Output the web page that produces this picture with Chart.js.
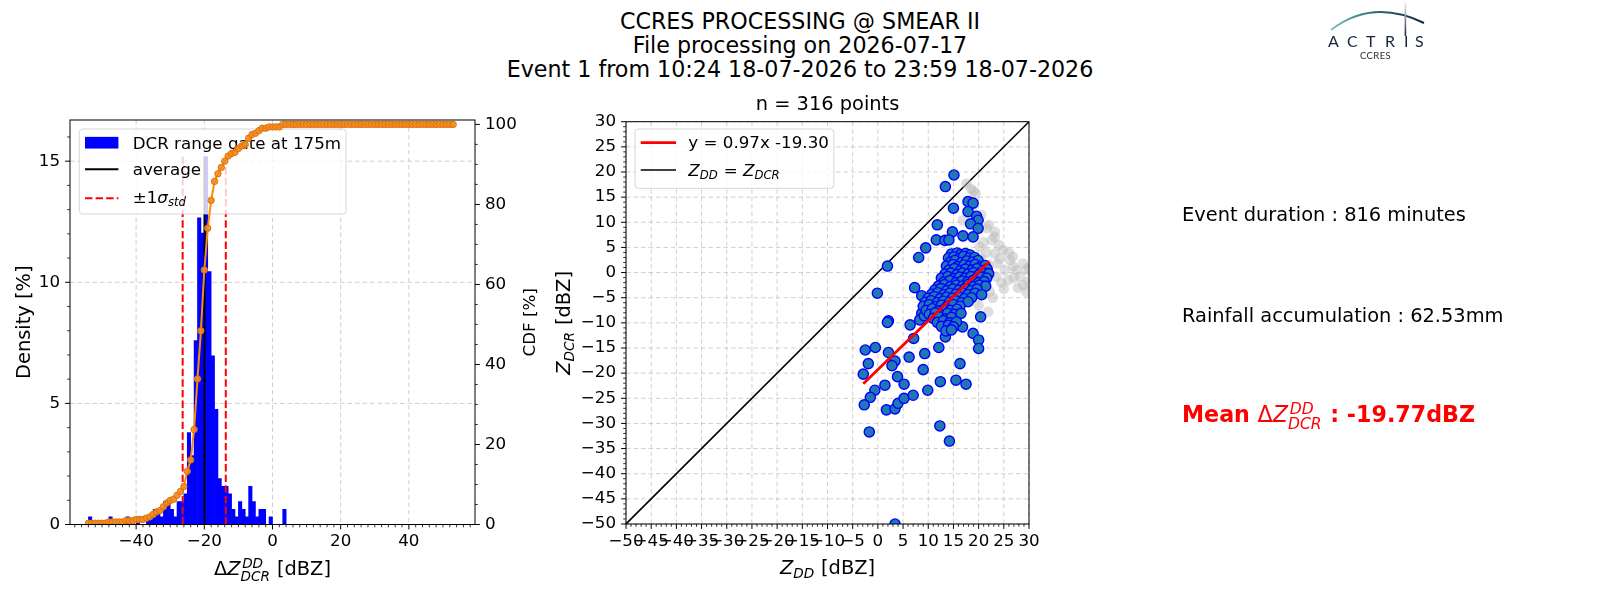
<!DOCTYPE html>
<html lang="en">
<head>
<meta charset="UTF-8">
<title>CCRES processing @ SMEAR II</title>
<script src="https://cdn.jsdelivr.net/npm/chart.js@4.4.1/dist/chart.umd.min.js"></script>
<style>
  body { margin: 0; background: #fff; width: 1600px; height: 600px; overflow: hidden; position: relative; }
  canvas { position: absolute; top: 0; }
  #hist { left: 0; }
  #scat { left: 545px; }
  #suptitle { position: absolute; left: 0; top: 8.8px; width: 1600px; text-align: center;
              font-family: 'DejaVu Sans', sans-serif; font-size: 22.2px; line-height: 24px; color: #000; }
  #logo { position: absolute; left: 1300px; top: 0; }
</style>
</head>
<body>
<div id="suptitle">CCRES PROCESSING @ SMEAR II<br>File processing on 2026-07-17<br>Event 1 from 10:24 18-07-2026 to 23:59 18-07-2026</div>
<canvas id="hist" width="545" height="600"></canvas>
<canvas id="scat" width="1055" height="600"></canvas>
<svg id="logo" width="140" height="70" viewBox="0 0 140 70">
  <defs>
    <linearGradient id="arcG" x1="0" y1="0" x2="1" y2="0">
      <stop offset="0" stop-color="#7cc6c2"/>
      <stop offset="0.4" stop-color="#2e7483"/>
      <stop offset="1" stop-color="#17243f"/>
    </linearGradient>
    <linearGradient id="barG" x1="0" y1="0" x2="0" y2="1">
      <stop offset="0" stop-color="#ffffff"/>
      <stop offset="1" stop-color="#17243f"/>
    </linearGradient>
  </defs>
  <path d="M31 30 Q72.5 -2 124 23" fill="none" stroke="url(#arcG)" stroke-width="2"/>
  <rect x="104.6" y="0" width="1.6" height="36" fill="url(#barG)"/>
  <text x="28 47 66 85 104 115" y="47" font-family="Lato, 'Open Sans', sans-serif" font-size="16" fill="#17243f">ACTRIS</text>
  <text x="60" y="58.5" font-family="Lato, 'Open Sans', sans-serif" font-size="9.5" letter-spacing="0.4" fill="#2b2b2b">CCRES</text>
</svg>
<script>
// ---------- histogram of Z_DD - Z_DCR (1 dBZ bins, left edges of non-empty bins) ----------
const histBinLeft = [-54, -48, -43, -40, -37, -36,
  -35, -34, -33, -32, -31, -30, -29, -28, -27, -26,
  -25, -24, -23, -22, -21, -20, -19, -18, -17, -16,
  -15, -14, -13, -12, -11, -10, -9, -8, -7, -6,
  -5, -4, -3, -1, 3];
const histDensity = [0.32, 0.32, 0.32, 0.32, 0.32, 0.32,
  0.63, 0.63, 0.32, 0.95, 0.95, 0.63, 0.32, 0.95, 0.95, 1.27,
  3.80, 2.85, 7.59, 12.66, 12.03, 15.19, 10.44, 6.96, 4.75, 1.90,
  1.58, 1.58, 1.27, 0.63, 0.32, 0.95, 0.63, 0.32, 1.58, 0.95,
  0.32, 0.63, 0.63, 0.32, 0.63];

// cumulative distribution, one marker per bin
const cdfBinLeft = [-54, -53, -52, -51, -50, -49, -48, -47, -46, -45,
  -44, -43, -42, -41, -40, -39, -38, -37, -36, -35,
  -34, -33, -32, -31, -30, -29, -28, -27, -26, -25,
  -24, -23, -22, -21, -20, -19, -18, -17, -16, -15,
  -14, -13, -12, -11, -10, -9, -8, -7, -6, -5,
  -4, -3, -2, -1, 0, 1, 2, 3, 4, 5,
  6, 7, 8, 9, 10, 11, 12, 13, 14, 15,
  16, 17, 18, 19, 20, 21, 22, 23, 24, 25,
  26, 27, 28, 29, 30, 31, 32, 33, 34, 35,
  36, 37, 38, 39, 40, 41, 42, 43, 44, 45,
  46, 47, 48, 49, 50, 51, 52, 53];
const cdfPercent = [0.32, 0.32, 0.32, 0.32, 0.32, 0.32, 0.63, 0.63, 0.63, 0.63,
  0.63, 0.95, 0.95, 0.95, 1.27, 1.27, 1.27, 1.58, 1.90, 2.53,
  3.16, 3.48, 4.43, 5.38, 6.01, 6.33, 7.28, 8.23, 9.49, 13.29,
  16.14, 23.73, 36.39, 48.42, 63.61, 74.05, 81.01, 85.76, 87.66, 89.24,
  90.82, 92.09, 92.72, 93.04, 93.99, 94.62, 94.94, 96.52, 97.47, 97.78,
  98.42, 99.05, 99.05, 99.37, 99.37, 99.37, 99.37, 100, 100, 100,
  100, 100, 100, 100, 100, 100, 100, 100, 100, 100,
  100, 100, 100, 100, 100, 100, 100, 100, 100, 100,
  100, 100, 100, 100, 100, 100, 100, 100, 100, 100,
  100, 100, 100, 100, 100, 100, 100, 100, 100, 100,
  100, 100, 100, 100, 100, 100, 100, 100];

const meanLineX = -19.95;
const stdLinesX = [-26.35, -13.7];
const vlineTop = 15.19;
const histLegendLabels = ['DCR range gate at 175m', 'average'];

// ---------- scatter Z_DD vs Z_DCR ----------
const bluePoints = [
  [15.1, 19.4], [13.4, 17.1], [15.0, 12.8], [17.9, 14.1], [18.9, 13.8], [17.9, 12.1], [19.6, 11.2],
  [19.9, 10.4], [18.4, 9.7], [19.9, 8.8], [11.8, 9.5], [14.8, 8.1], [16.9, 7.3], [18.9, 7.1],
  [11.6, 6.5], [13.3, 6.4], [14.1, 6.5], [9.5, 4.9], [8.1, 3.0], [1.9, 1.3], [-0.1, -4.1],
  [7.3, -3.0], [8.7, -4.6], [2.1, -9.6], [1.9, -9.9], [6.4, -10.4], [7.1, -13.1], [-2.5, -15.4],
  [-0.5, -14.9], [2.1, -15.9], [3.4, -17.6], [2.8, -18.5], [6.2, -16.8], [9.3, -16.1], [12.1, -14.9],
  [13.4, -12.8], [16.8, -10.8], [18.9, -12.1], [20.0, -13.4], [20.0, -15.1], [20.4, -8.8], [16.3, -18.1],
  [9.0, -19.3], [-1.9, -18.1], [-2.9, -20.2], [-0.6, -23.4], [-1.5, -24.8], [-2.7, -26.3], [1.4, -22.4],
  [3.9, -20.7], [5.2, -22.2], [1.7, -27.3], [3.4, -27.1], [4.0, -26.0], [5.2, -25.0], [7.0, -24.4],
  [9.9, -23.4], [12.4, -21.7], [15.5, -21.4], [17.5, -22.2], [-1.7, -31.7], [12.3, -30.5], [14.2, -33.5],
  [3.4, -50.0], [21.8, -0.4], [8.7, -8.1], [8.3, -9.4], [9.2, -8.6],
  [14.6, 3.7], [15.7, 3.9], [16.5, 3.6], [17.4, 3.8], [18.3, 3.5],
  [14.0, 2.9], [15.1, 3.1], [16.1, 2.8], [17.0, 3.2], [18.1, 2.9], [19.2, 3.0],
  [14.4, 2.1], [15.3, 2.4], [16.6, 2.0], [17.6, 2.3], [18.8, 2.1], [19.9, 2.4],
  [13.6, 1.3], [14.9, 1.6], [15.8, 1.2], [17.1, 1.5], [18.2, 1.3], [19.3, 1.6], [20.4, 1.2], [21.3, 1.4],
  [14.1, 0.5], [15.2, 0.8], [16.4, 0.4], [17.4, 0.7], [18.7, 0.5], [19.7, 0.8], [20.8, 0.4], [21.7, 0.7],
  [13.3, -0.3], [14.5, -0.1], [15.7, -0.4], [16.8, -0.1], [17.9, -0.3], [19.0, 0.0], [20.1, -0.4], [21.2, -0.1], [22.0, -0.2],
  [12.6, -1.1], [13.9, -0.8], [15.0, -1.2], [16.2, -0.9], [17.3, -1.1], [18.5, -0.8], [19.5, -1.2], [20.6, -0.9], [21.6, -1.1],
  [13.1, -1.9], [14.3, -1.6], [15.5, -2.0], [16.7, -1.7], [17.8, -1.9], [18.9, -1.6], [20.0, -2.0], [21.1, -1.8],
  [12.0, -2.7], [13.2, -2.4], [14.4, -2.8], [15.6, -2.5], [16.8, -2.7], [17.9, -2.4], [19.0, -2.8], [20.2, -2.5], [21.4, -2.7],
  [11.3, -3.5], [12.5, -3.2], [13.7, -3.6], [14.9, -3.3], [16.1, -3.5], [17.3, -3.2], [18.5, -3.6], [19.7, -3.3],
  [10.7, -4.3], [11.9, -4.0], [13.1, -4.4], [14.3, -4.1], [15.5, -4.3], [16.7, -4.0], [17.9, -4.4], [19.3, -4.1], [20.6, -4.4],
  [10.0, -5.1], [11.2, -4.8], [12.4, -5.2], [13.6, -4.9], [14.8, -5.1], [16.0, -4.8], [17.2, -5.2], [18.6, -5.0],
  [9.4, -5.9], [10.6, -5.6], [11.8, -6.0], [13.0, -5.7], [14.2, -5.9], [15.4, -5.6], [16.6, -6.0], [17.9, -5.8],
  [9.0, -6.7], [10.2, -6.4], [11.4, -6.8], [12.6, -6.5], [13.8, -6.7], [15.0, -6.4], [16.3, -6.7],
  [9.6, -7.5], [10.8, -7.2], [12.0, -7.6], [13.2, -7.3], [14.4, -7.5], [15.7, -7.3],
  [10.2, -8.3], [11.4, -8.0], [12.6, -8.4], [13.8, -8.1], [15.2, -8.3], [16.5, -8.1],
  [11.0, -9.1], [12.2, -8.8], [13.4, -9.2], [14.6, -8.9],
  [11.8, -9.9], [13.0, -9.6], [14.2, -10.0], [15.6, -9.8],
  [12.6, -10.7], [14.0, -10.5], [15.0, -10.8],
  [13.5, -11.6], [14.6, -11.4]
];
const grayPoints = [
  [17.6, 17.7], [19.0, 16.2], [19.4, 15.7], [18.5, 16.6], [16.9, 10.4], [20.5, 11.5], [18.8, 13.0],
  [21.6, 8.8], [23.2, 8.1], [22.6, 6.5], [23.2, 7.1], [22.0, 9.5], [20.2, 5.1], [21.0, 6.0],
  [24.0, 5.5], [24.9, 4.5], [23.2, 3.8], [21.5, 4.0], [24.2, 2.8], [26.2, 2.5], [26.0, 4.0],
  [26.8, 3.2], [20.5, 2.8], [22.0, 1.5], [23.8, 1.8], [25.2, 0.5], [26.9, 1.2], [27.5, 0.5],
  [28.8, 1.8], [29.5, 0.5], [30.0, 1.0], [28.2, -0.8], [27.0, -1.0], [29.8, -1.8], [28.8, -2.5],
  [27.8, -3.0], [29.5, -3.8], [23.5, -0.8], [25.9, -1.5], [24.5, -2.0], [21.0, -1.5], [22.2, -3.8],
  [25.0, -3.2], [22.8, -5.0], [21.9, -7.8], [20.0, -6.5]
];
const fitLineX = [-2.9, 22.1];
const fitLineY = [-22.11, 2.14];
const oneToOne = [-50, 30];
const scatterLegendLabels = ['y = 0.97x -19.30'];
const rightTexts = ['Event duration : 816 minutes', 'Rainfall accumulation : 62.53mm'];

// ---------- text helpers ----------
const FAMILY = "'DejaVu Sans', sans-serif";
Chart.defaults.font.family = FAMILY;
Chart.defaults.font.size = 16.7;
Chart.defaults.color = '#000';

function fontStr(size, it, bold) {
  return (it ? 'italic ' : '') + (bold ? 'bold ' : '') + size + 'px ' + FAMILY;
}

// parts: strings, {t, it, b} or {sup, sub} (script pair, mathtext-like)
function drawRich(ctx, x, y, parts, size, align, color) {
  const items = parts.map(p => (typeof p === 'string' ? { t: p } : p));
  const widths = items.map(p => {
    if (p.sup || p.sub) {
      ctx.font = fontStr(size * 0.7, true);
      const ws = p.sup ? ctx.measureText(p.sup).width + size * 0.08 : 0;
      const wb = p.sub ? ctx.measureText(p.sub).width : 0;
      return Math.max(ws, wb) + size * 0.04;
    }
    ctx.font = fontStr(size, p.it, p.b);
    return ctx.measureText(p.t).width;
  });
  const total = widths.reduce((a, b) => a + b, 0);
  let cx = align === 'center' ? x - total / 2 : align === 'right' ? x - total : x;
  ctx.fillStyle = color || '#000';
  ctx.textAlign = 'left';
  ctx.textBaseline = 'alphabetic';
  items.forEach((p, i) => {
    if (p.sup || p.sub) {
      ctx.font = fontStr(size * 0.7, true);
      if (p.sup) ctx.fillText(p.sup, cx + size * 0.08, y - size * 0.36);
      if (p.sub) ctx.fillText(p.sub, cx, y + size * (p.sup ? 0.33 : 0.2));
    } else {
      ctx.font = fontStr(size, p.it, p.b);
      ctx.fillText(p.t, cx, y);
    }
    cx += widths[i];
  });
  return total;
}

function drawRotated(ctx, x, y, parts, size) {
  ctx.save();
  ctx.translate(x, y);
  ctx.rotate(-Math.PI / 2);
  drawRich(ctx, 0, 0, parts, size, 'center');
  ctx.restore();
}

const fmtTick = v => (v < 0 ? '\u2212' + Math.abs(v) : String(v));

// ---------- axes decoration (matplotlib look) ----------
function drawGrid(chart, xId, yId) {
  const { ctx, chartArea: a } = chart;
  const xs = chart.scales[xId], ys = chart.scales[yId];
  ctx.save();
  ctx.strokeStyle = 'rgba(176,176,176,0.6)';
  ctx.lineWidth = 1;
  ctx.setLineDash([4.5, 3]);
  ctx.beginPath();
  xs.ticks.forEach((t, i) => {
    if (t.label === '') return;
    const p = xs.getPixelForTick(i);
    ctx.moveTo(p, a.top); ctx.lineTo(p, a.bottom);
  });
  ys.ticks.forEach((t, i) => {
    if (t.label === '') return;
    const p = ys.getPixelForTick(i);
    ctx.moveTo(a.left, p); ctx.lineTo(a.right, p);
  });
  ctx.stroke();
  ctx.restore();
}

function drawTickMarks(chart, id, side) {
  const { ctx, chartArea: a } = chart;
  const s = chart.scales[id];
  ctx.save();
  ctx.strokeStyle = '#000';
  s.ticks.forEach((t, i) => {
    const major = t.label !== '';
    const len = major ? 4.9 : 2.8;
    const p = s.getPixelForTick(i);
    ctx.lineWidth = major ? 1 : 0.8;
    ctx.beginPath();
    if (side === 'bottom') { ctx.moveTo(p, a.bottom); ctx.lineTo(p, a.bottom + len); }
    if (side === 'left') { ctx.moveTo(a.left, p); ctx.lineTo(a.left - len, p); }
    if (side === 'right') { ctx.moveTo(a.right, p); ctx.lineTo(a.right + len, p); }
    ctx.stroke();
  });
  ctx.restore();
}

function drawFrame(chart) {
  const { ctx, chartArea: a } = chart;
  ctx.save();
  ctx.strokeStyle = '#000';
  ctx.lineWidth = 1;
  ctx.strokeRect(a.left, a.top, a.right - a.left, a.bottom - a.top);
  ctx.restore();
}

function legendBox(ctx, x, y, w, h) {
  const r = 3.5;
  ctx.save();
  ctx.beginPath();
  ctx.moveTo(x + r, y);
  ctx.arcTo(x + w, y, x + w, y + h, r);
  ctx.arcTo(x + w, y + h, x, y + h, r);
  ctx.arcTo(x, y + h, x, y, r);
  ctx.arcTo(x, y, x + w, y, r);
  ctx.closePath();
  ctx.fillStyle = 'rgba(255,255,255,0.8)';
  ctx.fill();
  ctx.strokeStyle = 'rgba(204,204,204,0.8)';
  ctx.lineWidth = 1;
  ctx.stroke();
  ctx.restore();
}

function handleLine(ctx, x1, x2, y, color, width, dash) {
  ctx.save();
  ctx.strokeStyle = color;
  ctx.lineWidth = width;
  ctx.setLineDash(dash || []);
  ctx.beginPath(); ctx.moveTo(x1, y); ctx.lineTo(x2, y); ctx.stroke();
  ctx.restore();
}

function drawHistLegend(chart) {
  const { ctx, chartArea: a } = chart;
  const fs = 16.7;
  const x0 = a.left + 9.3, y0 = a.top + 9;
  ctx.font = fontStr(fs);
  const w = 53.4 + ctx.measureText(histLegendLabels[0]).width + 5;
  legendBox(ctx, x0, y0, w, 85);
  ctx.fillStyle = '#0000ff';
  ctx.fillRect(x0 + 5.7, y0 + 13.7 - 5.85, 33.4, 11.7);
  drawRich(ctx, x0 + 53.4, y0 + 19.5, [histLegendLabels[0]], fs, 'left');
  handleLine(ctx, x0 + 5.7, x0 + 39.1, y0 + 40.3, '#000', 2);
  drawRich(ctx, x0 + 53.4, y0 + 46, [histLegendLabels[1]], fs, 'left');
  handleLine(ctx, x0 + 5.7, x0 + 39.1, y0 + 69.3, '#ff0000', 2, [7.4, 3.2]);
  drawRich(ctx, x0 + 53.4, y0 + 74, ['\u00b11', { t: '\u03c3', it: true }, { sub: 'std' }], fs, 'left');
}

function drawScatterLegend(chart) {
  const { ctx, chartArea: a } = chart;
  const fs = 16.7;
  const x0 = a.left + 9, y0 = a.top + 7.3;
  ctx.font = fontStr(fs);
  const w = 53.3 + ctx.measureText(scatterLegendLabels[0]).width + 5;
  legendBox(ctx, x0, y0, w, 59.3);
  handleLine(ctx, x0 + 5.7, x0 + 41, y0 + 13.7, '#ff0000', 2.8);
  drawRich(ctx, x0 + 53.3, y0 + 19.3, [scatterLegendLabels[0]], fs, 'left');
  handleLine(ctx, x0 + 5.7, x0 + 41, y0 + 41, '#000', 1.6);
  drawRich(ctx, x0 + 53.3, y0 + 47, [{ t: 'Z', it: true }, { sub: 'DD' }, ' = ', { t: 'Z', it: true }, { sub: 'DCR' }], fs, 'left');
}

const histDecor = {
  id: 'histDecor',
  beforeDatasetsDraw(chart) { drawGrid(chart, 'x', 'y'); },
  afterDatasetDraw(chart, args) { if (args.index === 3) drawHistLegend(chart); },
  afterDraw(chart) {
    const { ctx, chartArea: a } = chart;
    drawFrame(chart);
    drawTickMarks(chart, 'x', 'bottom');
    drawTickMarks(chart, 'y', 'left');
    drawTickMarks(chart, 'y2', 'right');
    const cy = (a.top + a.bottom) / 2;
    drawRich(ctx, (a.left + a.right) / 2, 575, ['\u0394', { t: 'Z', it: true }, { sup: 'DD', sub: 'DCR' }, ' [dBZ]'], 19.4, 'center');
    drawRotated(ctx, 29.5, cy, ['Density [%]'], 19.4);
    drawRotated(ctx, 534.5, cy, ['CDF [%]'], 16.7);
  }
};

const scatDecor = {
  id: 'scatDecor',
  beforeDatasetsDraw(chart) { drawGrid(chart, 'x', 'y'); },
  afterDraw(chart) {
    const { ctx, chartArea: a } = chart;
    drawFrame(chart);
    drawTickMarks(chart, 'x', 'bottom');
    drawTickMarks(chart, 'y', 'left');
    drawScatterLegend(chart);
    const cx = (a.left + a.right) / 2;
    drawRich(ctx, cx, a.top - 11.5, ['n = 316 points'], 19.4, 'center');
    drawRich(ctx, cx, 574, [{ t: 'Z', it: true }, { sub: 'DD' }, ' [dBZ]'], 19.4, 'center');
    drawRotated(ctx, 25, (a.top + a.bottom) / 2, [{ t: 'Z', it: true }, { sub: 'DCR' }, ' [dBZ]'], 19.4);
    // event summary on the right
    const tx = 637;
    drawRich(ctx, tx, 221, [rightTexts[0]], 19.4, 'left');
    drawRich(ctx, tx, 322, [rightTexts[1]], 19.4, 'left');
    drawRich(ctx, tx, 422, [{ t: 'Mean ', b: true }, '\u0394', { t: 'Z', it: true }, { sup: 'DD', sub: 'DCR' },
      { t: ' : -19.77dBZ', b: true }], 22.2, 'left', '#ff0000');
  }
};

// ---------- left chart: histogram + CDF ----------
new Chart(document.getElementById('hist'), {
  type: 'bar',
  data: {
    datasets: [
      {
        type: 'bar',
        data: histBinLeft.map((b, i) => ({ x: b + 0.5, y: histDensity[i] })),
        backgroundColor: '#0000ff', borderWidth: 0,
        barPercentage: 1, categoryPercentage: 1,
        yAxisID: 'y', order: 5
      },
      {
        type: 'line',
        data: [{ x: meanLineX, y: 0 }, { x: meanLineX, y: vlineTop }],
        borderColor: '#000', borderWidth: 2, pointRadius: 0, yAxisID: 'y', order: 4
      },
      {
        type: 'line',
        data: [{ x: stdLinesX[0], y: 0 }, { x: stdLinesX[0], y: vlineTop }],
        borderColor: '#ff0000', borderWidth: 2, borderDash: [7.4, 3.2], pointRadius: 0, yAxisID: 'y', order: 3
      },
      {
        type: 'line',
        data: [{ x: stdLinesX[1], y: 0 }, { x: stdLinesX[1], y: vlineTop }],
        borderColor: '#ff0000', borderWidth: 2, borderDash: [7.4, 3.2], pointRadius: 0, yAxisID: 'y', order: 2
      },
      {
        type: 'line',
        data: cdfBinLeft.map((b, i) => ({ x: b, y: cdfPercent[i] })),
        borderColor: '#ff8c00', borderWidth: 2,
        pointRadius: 3.2, pointBorderWidth: 1,
        pointBackgroundColor: 'rgba(245,140,30,0.9)', pointBorderColor: '#d9730d',
        yAxisID: 'y2', order: 1
      }
    ]
  },
  options: {
    responsive: false, animation: false,
    layout: { autoPadding: false, padding: { left: 0, right: 0, top: 120, bottom: 0 } },
    plugins: { legend: { display: false }, tooltip: { enabled: false } },
    scales: {
      x: {
        type: 'linear', min: -59.4, max: 59.4, offset: false,
        grid: { display: false, drawTicks: false, offset: false }, border: { display: false },
        ticks: { stepSize: 2, includeBounds: false, autoSkip: false, maxRotation: 0, padding: 7.2,
                 callback: v => (v % 20 === 0 ? fmtTick(v) : '') },
        afterFit: s => { s.height = 75.5; }
      },
      y: {
        position: 'left', min: 0, max: 16.7,
        grid: { display: false, drawTicks: false }, border: { display: false },
        ticks: { stepSize: 1, includeBounds: false, autoSkip: false, padding: 10,
                 callback: v => (v % 5 === 0 ? String(v) : '') },
        afterFit: s => { s.width = 70; }
      },
      y2: {
        position: 'right', min: 0, max: 101.1,
        grid: { display: false, drawTicks: false }, border: { display: false },
        ticks: { stepSize: 5, includeBounds: false, autoSkip: false, padding: 10,
                 callback: v => (v % 20 === 0 ? String(v) : '') },
        afterFit: s => { s.width = 70; }
      }
    }
  },
  plugins: [histDecor]
});

// ---------- right chart: scatter Z_DD vs Z_DCR ----------
new Chart(document.getElementById('scat'), {
  type: 'scatter',
  data: {
    datasets: [
      {
        data: oneToOne.map(v => ({ x: v, y: v })), showLine: true,
        borderColor: '#000', borderWidth: 1.6, pointRadius: 0, clip: 0, order: 4
      },
      {
        data: grayPoints.map(p => ({ x: p[0], y: p[1] })),
        backgroundColor: 'rgba(190,190,190,0.5)', borderWidth: 0, pointRadius: 5.3, clip: 0, order: 3
      },
      {
        data: bluePoints.map(p => ({ x: p[0], y: p[1] })),
        backgroundColor: '#1f77b4', borderColor: '#0000ff', borderWidth: 1.4, pointRadius: 5.1, clip: 0, order: 2
      },
      {
        data: fitLineX.map((v, i) => ({ x: v, y: fitLineY[i] })), showLine: true,
        borderColor: '#ff0000', borderWidth: 2.8, pointRadius: 0, clip: 0, order: 1
      }
    ]
  },
  options: {
    responsive: false, animation: false,
    layout: { autoPadding: false, padding: { left: 0, right: 571, top: 121.7, bottom: 0 } },
    plugins: { legend: { display: false }, tooltip: { enabled: false } },
    scales: {
      x: {
        type: 'linear', min: -50, max: 30,
        grid: { display: false, drawTicks: false }, border: { display: false },
        ticks: { stepSize: 1, autoSkip: false, maxRotation: 0, minRotation: 0, padding: 7.7,
                 callback: v => (v % 5 === 0 ? fmtTick(v) : '') },
        afterFit: s => { s.height = 76; }
      },
      y: {
        type: 'linear', min: -50, max: 30,
        grid: { display: false, drawTicks: false }, border: { display: false },
        ticks: { stepSize: 1, autoSkip: false, padding: 10,
                 callback: v => (v % 5 === 0 ? fmtTick(v) : '') },
        afterFit: s => { s.width = 81; }
      }
    }
  },
  plugins: [scatDecor]
});
</script>
</body>
</html>
